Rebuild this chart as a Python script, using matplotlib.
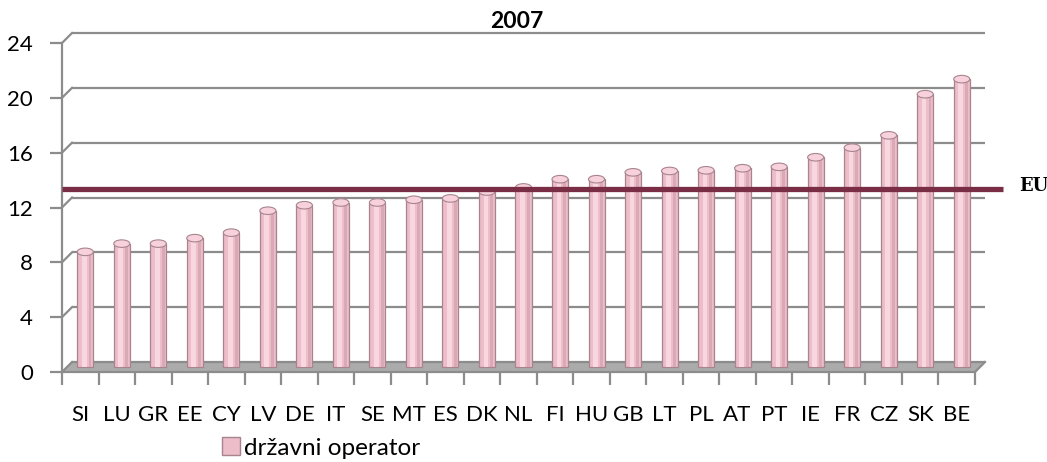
import matplotlib
matplotlib.use("Agg")
import matplotlib.pyplot as plt
import matplotlib.transforms as mtransforms
from matplotlib.patches import Ellipse, Patch, Polygon

# ── Data ──────────────────────────────────────────────────────────────────────
countries = ["SI", "LU", "GR", "EE", "CY", "LV", "DE", "IT", "SE", "MT", "ES",
             "DK", "NL", "FI", "HU", "GB", "LT", "PL", "AT", "PT", "IE", "FR",
             "CZ", "SK", "BE"]
values = [8.4, 9.0, 9.0, 9.4, 9.8, 11.4, 11.8, 12.0, 12.0, 12.2, 12.3,
          12.8, 13.1, 13.7, 13.7, 14.2, 14.3, 14.35, 14.5, 14.6, 15.3, 16.0,
          16.9, 19.9, 21.0]
eu_avg = 13.35
yticks = [0, 4, 8, 12, 16, 20, 24]
title = "2007"
series_name = "državni operator"

# ── Style ─────────────────────────────────────────────────────────────────────
GRID = "#8C8C8C"
FLOOR = "#ABABAB"
BAR = "#EDBDC9"
BAR_HI = "#F9D7E0"
BAR_SH = "#D9A9B5"
BAR_EDGE = "#A8848E"
EU_COL = "#7A2E45"

plt.rcParams["font.family"] = ["Lato", "DejaVu Sans"]

fig = plt.figure(figsize=(10.47, 4.62), dpi=100)
ax = fig.add_axes([62 / 1047, 90 / 462, 913 / 1047, 329 / 462])
n = len(countries)
ax.set_xlim(-0.5, n - 0.5)
ax.set_ylim(0, 24)
for s in ["top", "right"]:
    ax.spines[s].set_visible(False)
for s in ["left", "bottom"]:
    ax.spines[s].set_color(GRID)
    ax.spines[s].set_linewidth(1.6)

# depth offsets (pixels -> inches)
back = ax.transData + mtransforms.ScaledTranslation(0.10, 0.10, fig.dpi_scale_trans)
mid = ax.transData + mtransforms.ScaledTranslation(0.05, 0.05, fig.dpi_scale_trans)
dx, dy = 10 / 36.52, 10 / 13.71

# floor
floor = Polygon([(-0.5, 0), (n - 0.5, 0), (n - 0.5 + dx, dy), (-0.5 + dx, dy)],
                closed=True, facecolor=FLOOR, edgecolor="none", zorder=1,
                clip_on=False)
ax.add_patch(floor)

# back-wall gridlines + diagonal connectors
for t in yticks:
    ax.plot([-0.5, n - 0.5], [t, t], color=GRID, lw=1.6, transform=back,
            zorder=1.5, clip_on=False, solid_capstyle="butt")
    ax.plot([-0.5, -0.5 + dx], [t, t + dy], color=GRID, lw=1.6,
            zorder=1.5, clip_on=False)
ax.plot([n - 0.5, n - 0.5 + dx], [0, dy], color=GRID, lw=1.6,
        zorder=1.5, clip_on=False)

# cylinder bars
x = list(range(n))
w = 0.44
ax.bar(x, values, width=w, color=BAR, edgecolor=BAR_EDGE, linewidth=0.9,
       transform=mid, zorder=3)
ax.bar([xi + 0.13 for xi in x], values, width=0.08, color=BAR_SH,
       edgecolor="none", transform=mid, zorder=3.1)
ax.bar([xi - 0.03 for xi in x], values, width=0.13, color=BAR_HI,
       edgecolor="none", transform=mid, zorder=3.2)
for xi, v in zip(x, values):
    ax.add_patch(Ellipse((xi, v), w, 0.55, facecolor="#F7D2DC",
                         edgecolor=BAR_EDGE, lw=0.8, transform=mid, zorder=3.5))

# EU average line
ax.plot([0, 1.031], [eu_avg, eu_avg], color=EU_COL, lw=3.8,
        transform=ax.get_yaxis_transform(), clip_on=False, zorder=4,
        solid_capstyle="butt")
fig.text(1019 / 1047, 1 - 186 / 462, "EU", fontsize=13, fontweight="bold",
         family=["DejaVu Serif"], ha="left", va="center", color="black")

# ticks
ax.set_yticks(yticks)
ax.set_yticklabels([str(t) for t in yticks])
ax.tick_params(axis="y", length=9, width=1.6, color=GRID, pad=12,
               labelsize=16)
ax.set_xticks(x)
ax.set_xticklabels(countries)
ax.tick_params(axis="x", which="major", length=0, pad=24, labelsize=16)
ax.set_xticks([i - 0.5 for i in range(n + 1)], minor=True)
ax.tick_params(axis="x", which="minor", length=9, width=1.6, color=GRID)

fig.text(517 / 1047, 1 - 21 / 462, title, fontsize=16.5, fontweight="bold",
         ha="center", va="center")

fig.legend(handles=[Patch(facecolor=BAR, edgecolor=BAR_EDGE, label=series_name)],
           loc="center", bbox_to_anchor=(321 / 1047, 14 / 462),
           frameon=False, fontsize=17.5, handlelength=0.75,
           handleheight=0.75, handletextpad=0.15, borderpad=0)

fig.savefig("out.png", dpi=100, facecolor="white")
plt.close(fig)
